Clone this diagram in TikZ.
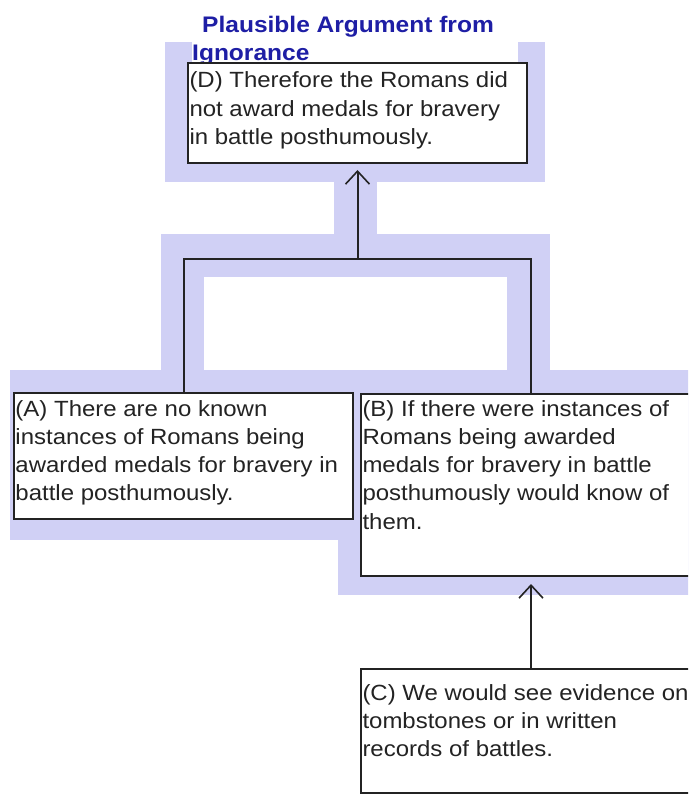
\documentclass[tikz,border=0pt]{standalone}
\usepackage{fontspec}
\setmainfont{Liberation Sans}[FakeStretch=1.09]
\usetikzlibrary{arrows.meta}
\definecolor{lav}{RGB}{208,208,245}
\definecolor{ttl}{RGB}{30,30,165}
\definecolor{ink}{RGB}{35,35,35}
\newcommand{\cardtext}[4]{\parbox[c][#2][t]{#1}{\raggedright\rule{0pt}{#3}#4}}
\begin{document}
\begin{tikzpicture}[x=1pt,y=-1pt,
  card/.style={draw=ink, line width=2pt, fill=white, inner xsep=1.5pt, inner ysep=0pt, anchor=north west, text=ink},
  link/.style={draw=ink, line width=2pt},
  arr/.style={link, -{Straight Barb[length=13pt,width=24pt,line width=1.6pt]}},
  font=\fontsize{22}{28.3}\selectfont]
\useasboundingbox (0,0) rectangle (688,794);
\clip (0,0) rectangle (688,794);
\fill[white] (0,0) rectangle (688,794);
% highlight regions
\fill[lav] (165,42) rectangle (545,182);
\fill[lav] (334,182) rectangle (377,234);
\fill[lav] (161,234) rectangle (550,277);
\fill[lav] (161,277) rectangle (204,372);
\fill[lav] (507,277) rectangle (550,372);
\fill[lav] (10,370) rectangle (700,540);
\fill[lav] (338,540) rectangle (700,595);
% title
\node[fill=white, inner sep=0pt, anchor=north west, text=ttl, font=\bfseries\fontsize{22.5}{28}\selectfont] (title) at (192,0)
  {\cardtext{326pt}{62pt}{32pt}{\hspace*{10pt}Plausible Argument from\\Ignorance}};
% boxes
\node[card] (D) at (187,62) {\cardtext{336pt}{100pt}{25pt}{(D) Therefore the Romans did\\not award medals for bravery\\in battle posthumously.}};
\node[card] (A) at (13,392) {\cardtext{336pt}{126pt}{23pt}{(A) There are no known\\instances of Romans being\\awarded medals for bravery in\\battle posthumously.}};
\node[card] (B) at (360,393) {\cardtext{337pt}{182pt}{22pt}{(B) If there were instances of\\Romans being awarded\\medals for bravery in battle\\posthumously would know of\\them.}};
\node[card] (C) at (360,668) {\cardtext{337pt}{124pt}{31pt}{(C) We would see evidence on\\tombstones or in written\\records of battles.}};
% connectors
\path (D.south) ++(0,95) coordinate (j);
\draw[link] (A.north) |- (j) -| (B.north);
\draw[arr, shorten >=6pt] (j) -- (D.south);
\draw[arr, shorten >=7pt] (C.north) -- (B.south);
\end{tikzpicture}
\end{document}
